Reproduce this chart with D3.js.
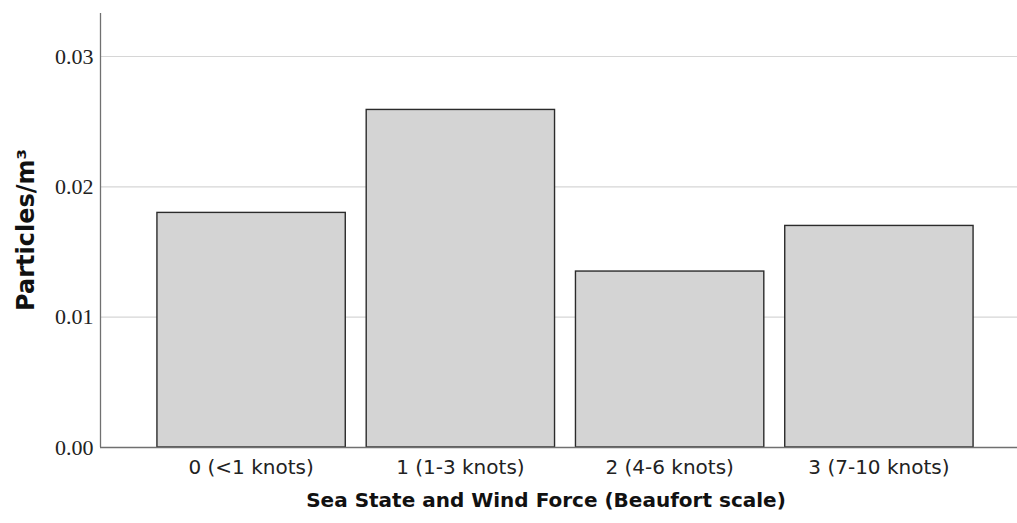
<!DOCTYPE html>
<html>
<head>
<meta charset="utf-8">
<script src="https://cdn.jsdelivr.net/npm/d3@7"></script>
<style>
  body { margin: 0; background: #fff; }
</style>
</head>
<body>
<div id="viz"></div>
<script>
// data
const categories = ["0 (<1 knots)", "1 (1-3 knots)", "2 (4-6 knots)", "3 (7-10 knots)"];
const values = [0.0180, 0.0259, 0.0135, 0.0170];
const yTicks = [0, 0.01, 0.02, 0.03];

// svg size
const width = 1017;
const height = 523;

// plot area
const plotLeft = 100, plotBottom = 447, plotTop = 13;

const svg = d3.select("#viz")
    .append("svg")
    .attr("width", width)
    .attr("height", height);

// scales
const x = d3.scaleBand()
    .domain(categories)
    .range([136, 994])
    .paddingInner(0.1)
    .paddingOuter(0.1);

const y = d3.scaleLinear()
    .domain([0, 0.03])
    .range([plotBottom, 56]);

// gridlines
svg.append("g")
    .selectAll("line")
    .data(yTicks.slice(1))
    .enter()
    .append("line")
    .attr("x1", plotLeft)
    .attr("x2", width)
    .attr("y1", d => y(d) + 0.5)
    .attr("y2", d => y(d) + 0.5)
    .attr("stroke", "#d6d6d6")
    .attr("stroke-width", 1.2);

// bars
svg.append("g")
    .selectAll("rect")
    .data(values)
    .enter()
    .append("rect")
    .attr("x", (d, i) => x(categories[i]))
    .attr("y", d => y(d))
    .attr("width", x.bandwidth())
    .attr("height", d => plotBottom - y(d))
    .attr("fill", "#d4d4d4")
    .attr("stroke", "#2b2b2b")
    .attr("stroke-width", 1.4);

// y axis
const yAxis = d3.axisLeft(y)
    .tickValues(yTicks)
    .tickFormat(d3.format(".2f"))
    .tickSize(0)
    .tickPadding(7);

const yg = svg.append("g")
    .attr("transform", "translate(" + (plotLeft + 0.5) + ",0)")
    .call(yAxis);
yg.select(".domain").remove();
yg.selectAll("text")
    .style("font-family", "'Liberation Serif', serif")
    .style("font-size", "22px")
    .attr("fill", "#222");

// axis lines
svg.append("line")
    .attr("x1", plotLeft + 0.5).attr("x2", plotLeft + 0.5)
    .attr("y1", plotTop).attr("y2", plotBottom)
    .attr("stroke", "#707070").attr("stroke-width", 1.3);
svg.append("line")
    .attr("x1", plotLeft).attr("x2", width)
    .attr("y1", plotBottom + 0.5).attr("y2", plotBottom + 0.5)
    .attr("stroke", "#707070").attr("stroke-width", 1.3);

// x axis labels
const xAxis = d3.axisBottom(x).tickSize(0).tickPadding(13);
const xg = svg.append("g")
    .attr("transform", "translate(0," + plotBottom + ")")
    .call(xAxis);
xg.select(".domain").remove();
xg.selectAll("text")
    .style("font-family", "'DejaVu Sans', sans-serif")
    .style("font-size", "20px")
    .attr("fill", "#222");

// x label
svg.append("text")
    .attr("x", 546)
    .attr("y", 507)
    .attr("text-anchor", "middle")
    .style("font-family", "'DejaVu Sans', sans-serif")
    .style("font-size", "20px")
    .style("font-weight", "bold")
    .attr("fill", "#111")
    .text("Sea State and Wind Force (Beaufort scale)");

// y label
svg.append("text")
    .attr("transform", "translate(34,230) rotate(-90)")
    .attr("text-anchor", "middle")
    .style("font-family", "'DejaVu Sans', sans-serif")
    .style("font-size", "24px")
    .style("font-weight", "bold")
    .attr("fill", "#111")
    .text("Particles/m³");
</script>
</body>
</html>
